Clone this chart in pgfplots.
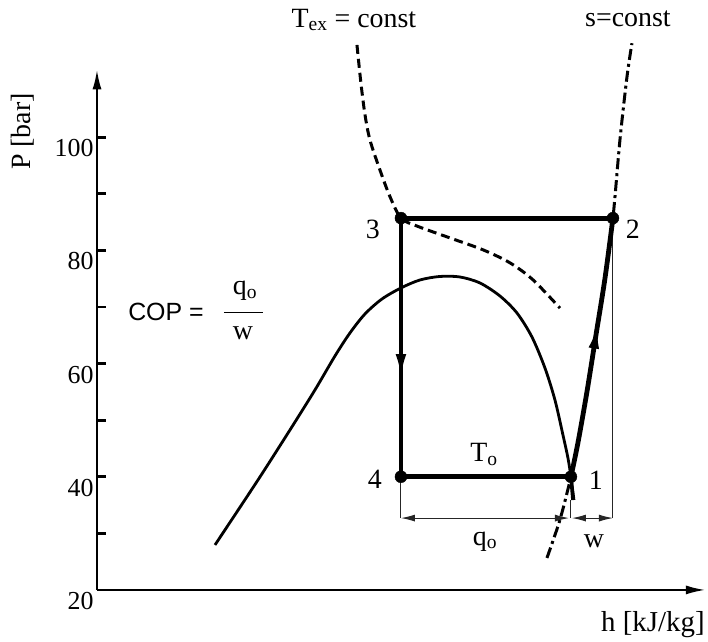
\documentclass[border=0pt]{standalone}
\usepackage{fontspec}
\setmainfont{Liberation Serif}
\newfontfamily\arial{Liberation Sans}
\usepackage{pgfplots}
\pgfplotsset{compat=1.18}
\usetikzlibrary{arrows.meta,decorations.markings}

\begin{document}
\begin{tikzpicture}
\begin{axis}[
  x=1bp, y=5.66bp,
  xmin=97, xmax=706, ymin=20, ymax=112,
  axis lines=left,
  axis line style={line width=2.4bp, -{Latex[length=20bp,width=9bp]}},
  xtick=\empty,
  ytick={20,40,60,80,100},
  minor ytick={30,50,70,90},
  tick align=inside,
  major tick length=9bp, minor tick length=9bp,
  every tick/.style={line width=2.8bp, black},
  yticklabel style={font=\fontsize{26}{26}\selectfont, yshift=-11bp},
  /pgf/number format/assume math mode=true,
  clip=false,
]
% invisible frame fixing the picture size
\path (axis cs:0,124.24) rectangle (axis cs:708,10.99);

% saturation dome
\addplot[black, line width=2.8bp, smooth, tension=0.5] coordinates {
 (215,27.95) (258,39.43) (290,48.27) (315,55.34) (335,61.34) (350,65.41)
 (365,68.76) (382,71.41) (401,73.36) (420,74.77) (440,75.39) (460,75.30)
 (480,74.24) (500,71.94) (517,68.94) (532,64.70) (545,59.22) (555,53.57)
 (563,47.39) (568,43.32) (571,40) (574,35.9)};

% isotherm T_ex (dashed)
\addplot[black, line width=3bp, dash pattern=on 9bp off 5bp, smooth, tension=0.5] coordinates {
 (357,116.3) (361,109.5) (365,104) (370,99.5) (380,94.2) (390,89.5) (401,85.7)
 (417,84.3) (450,82.2) (483,80.1) (510,77.8) (533,74.8) (560,69.8)};

% isentrope (dash-dot)
\addplot[black, line width=3bp, dash pattern=on 11bp off 4bp on 3bp off 4bp, smooth, tension=0.5] coordinates {
 (547,25.65) (560,32.4) (571,40) (578,46) (587,55) (596,65) (605,75) (613,85.7)
 (620,99.5) (627,110.6) (632,116.6)};

% dimension lines
\addplot[black!85, line width=1bp] coordinates {(401,40) (401,32.7)};
\addplot[black!85, line width=1bp] coordinates {(571,35.9) (571,32.7)};
\addplot[black!85, line width=1bp] coordinates {(613,85.7) (613,32.7)};
\addplot[black!85, line width=1bp, {Latex[length=14bp,width=7bp]}-{Latex[length=14bp,width=7bp]}] coordinates {(401,32.7) (569,32.7)};
\addplot[black!85, line width=1bp, {Latex[length=14bp,width=7bp]}-{Latex[length=14bp,width=7bp]}] coordinates {(572,32.7) (613,32.7)};

% cycle
\addplot[black, line width=4.8bp] coordinates {(401,85.7) (613,85.7)};
\addplot[black, line width=4.8bp] coordinates {(401,40) (571,40)};
\addplot[black, line width=4.8bp, postaction={decorate}, decoration={markings, mark=at position 0.65 with {\arrow{Latex[length=32bp,width=10bp]}}}] coordinates {(401,85.7) (401,40)};
\addplot[black, line width=4.8bp, smooth, tension=0.5, postaction={decorate}, decoration={markings, mark=at position 0.62 with {\arrow{Latex[length=32bp,width=10bp]}}}] coordinates {
 (571,40) (578,46) (587,55) (596,65) (605,75) (613,85.7)};
\addplot[black, line width=3.5bp] coordinates {(571,40) (573,35.9)};

% state points
\addplot[only marks, mark=*, mark size=6bp, black] coordinates {(401,85.7) (613,85.7) (401,40) (571,40)};

% labels
\node[font=\fontsize{28}{28}\selectfont] at (axis cs:373,83.7) {3};
\node[font=\fontsize{28}{28}\selectfont] at (axis cs:633,83.7) {2};
\node[font=\fontsize{28}{28}\selectfont] at (axis cs:375,39.6) {4};
\node[font=\fontsize{28}{28}\selectfont] at (axis cs:596,39.4) {1};
\node[font=\fontsize{28}{28}\selectfont] at (axis cs:484,43.9) {T\textsubscript{o}};
\node[font=\fontsize{28}{28}\selectfont] at (axis cs:485,28.6) {q\textsubscript{o}};
\node[font=\fontsize{28}{28}\selectfont] at (axis cs:594,28.6) {w};
\node[font=\fontsize{28}{28}\selectfont] at (axis cs:354,120.7) {T\textsubscript{ex} = const};
\node[font=\fontsize{28}{28}\selectfont] at (axis cs:628,121.0) {s=const};
\node[font=\fontsize{28}{28}\selectfont, rotate=90] at (axis cs:23,101) {P [bar]};
\node[font=\fontsize{29}{29}\selectfont] at (axis cs:653,13.8) {h [kJ/kg]};
\node[font=\arial\fontsize{25}{25}\selectfont] at (axis cs:166,69.1) {COP =};
\node[font=\fontsize{28}{28}\selectfont] at (axis cs:245,72.9) {q\textsubscript{o}};
\draw[line width=1.1bp] (axis cs:224,69.1) -- (axis cs:263,69.1);
\node[font=\fontsize{28}{28}\selectfont] at (axis cs:243,65.4) {w};
\end{axis}
\end{tikzpicture}
\end{document}
